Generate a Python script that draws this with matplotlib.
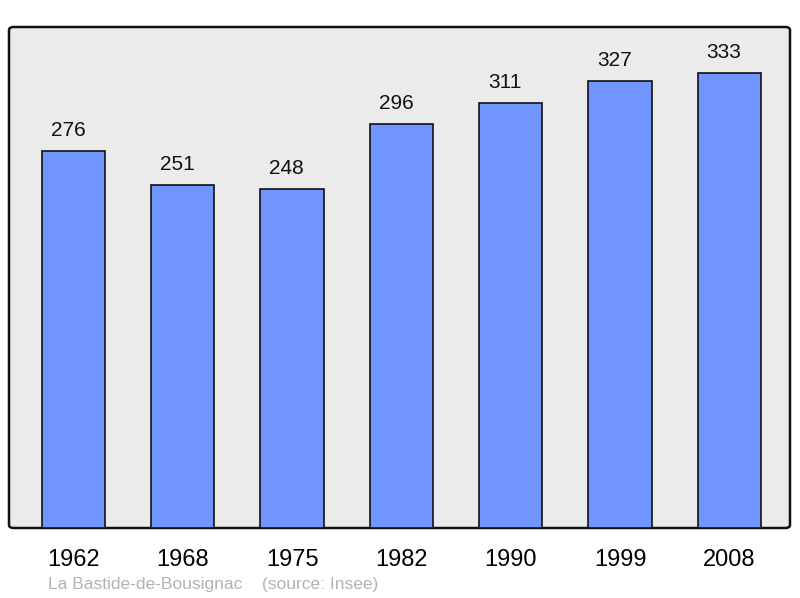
import matplotlib
matplotlib.use("Agg")
import matplotlib.pyplot as plt
from matplotlib.patches import FancyBboxPatch

years = ["1962", "1968", "1975", "1982", "1990", "1999", "2008"]
population = [276, 251, 248, 296, 311, 327, 333]
commune = "La Bastide-de-Bousignac"
source = "(source: Insee)"

plt.rcParams['font.family'] = ['Liberation Sans', 'DejaVu Sans']

fig = plt.figure(figsize=(8.0, 5.98), dpi=100)
W, H = 800, 598
left, right, top, bottom = 9, 790, 27, 528
ax = fig.add_axes([left / W, 1 - bottom / H, (right - left) / W, (bottom - top) / H])
ax.set_facecolor('none')

# rounded background frame
bg = FancyBboxPatch((0, 0), 1, 1, boxstyle="round,pad=0,rounding_size=0.006",
                    transform=ax.transAxes, facecolor='#ebebeb', edgecolor='#111111',
                    linewidth=1.8, zorder=0, clip_on=False)
ax.add_patch(bg)

x = list(range(len(years)))
ax.bar(x, population, width=0.58, color='#7095ff', edgecolor='#111111',
       linewidth=1.2, zorder=2)
for xi, v in zip(x, population):
    ax.text(xi - 0.05, v + 8, str(v), ha='center', va='bottom', fontsize=15, color='#111111')

ax.set_xlim(-0.59, 6.555)
ax.set_ylim(0, 366.8)
for s in ax.spines.values():
    s.set_visible(False)
ax.set_yticks([])
ax.set_xticks(x)
ax.set_xticklabels(years, fontsize=17)
ax.tick_params(axis='x', length=0, pad=15)

fig.text(48 / W, 1 - 585 / H, commune + "    " + source, fontsize=12.5,
         color='#b3b3b3', ha='left', va='center')

fig.savefig("out.png", dpi=100)
